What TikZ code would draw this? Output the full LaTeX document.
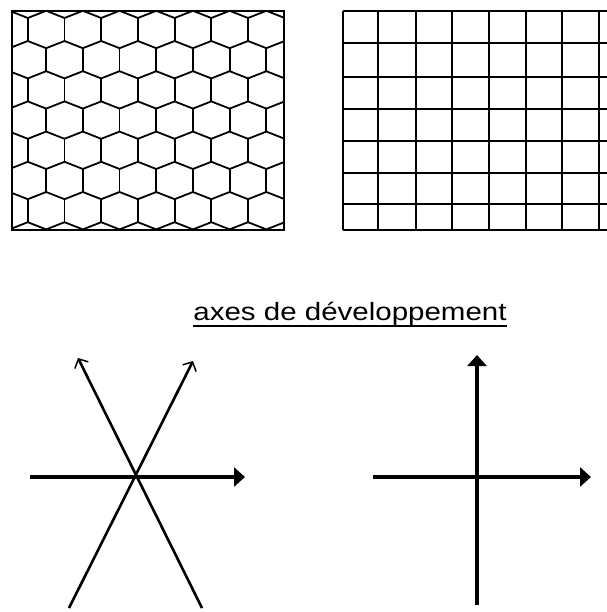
\documentclass[tikz,border=0pt]{standalone}
\usepackage{fontspec}
\setmainfont{Liberation Sans}
\usetikzlibrary{arrows.meta}
\begin{document}
\begin{tikzpicture}[x=1pt,y=-1pt,
  hexline/.style={line width=1.8pt,line join=round},
  frameline/.style={line width=2pt},
  gridline/.style={line width=2.2pt},
  thinaxis/.style={line width=2.6pt,-{Straight Barb[length=7pt,width=15pt,line width=1.5pt]}},
  thickaxis/.style={line width=3.4pt,-{Triangle[length=11pt,width=19pt]}},
  title/.style={font=\fontsize{25}{28}\selectfont,inner sep=0pt,anchor=base}]
\useasboundingbox (0,0) rectangle (606,612);
% hexagonal pattern
\begin{scope}
\clip (12,11) rectangle (284,230);
\foreach \r in {0,...,8}{
  \pgfmathsetmacro\yt{18+30.2*(\r-1)}
  \pgfmathsetmacro\yb{\yt+23}
  \pgfmathsetmacro\yn{\yb+7.2}
  \pgfmathsetmacro\off{isodd(\r) ? 27.8 : 46.15}
  \foreach \k in {-1,...,8}{
    \pgfmathsetmacro\X{\off+36.7*\k}
    \draw[hexline] (\X-18.35,\yn) -- (\X,\yb) -- (\X+18.35,\yn);
    \draw[hexline] (\X,\yt) -- (\X,\yb);
  }
}
\end{scope}
\node[draw,frameline,inner sep=0pt,minimum width=272pt,minimum height=219pt] (hexframe) at (148,120.5) {};
% square grid
\foreach \gx in {343.3,377.7,416,452.3,489,526,561.7,599.3}{
  \draw[gridline] (\gx,11) -- (\gx,230);
}
\foreach \gy in {11,42.7,76.7,108.7,140.7,172.7,204.3,230}{
  \draw[gridline] (343.3,\gy) -- (607,\gy);
}
% title
\node[title] (t) at (350,320) {\scalebox{1.18}[1]{axes de développement}};
\draw[line width=2pt] ([yshift=-6pt]t.base west) -- ([yshift=-6pt]t.base east);
% hexagonal growth axes
\coordinate (hl) at (30,477);
\coordinate (hr) at (245,477);
\coordinate (d1s) at (202,608);
\coordinate (d1e) at (78,358);
\coordinate (d2s) at (69,608);
\coordinate (d2e) at (193,361);
\draw[thickaxis] (hl) -- (hr);
\draw[thinaxis] (d1s) -- (d1e);
\draw[thinaxis] (d2s) -- (d2e);
% orthogonal growth axes
\coordinate (vb) at (477,605);
\coordinate (vt) at (477,355);
\coordinate (ql) at (373,477);
\coordinate (qr) at (591,477);
\draw[thickaxis] (vb) -- (vt);
\draw[thickaxis] (ql) -- (qr);
\end{tikzpicture}
\end{document}
